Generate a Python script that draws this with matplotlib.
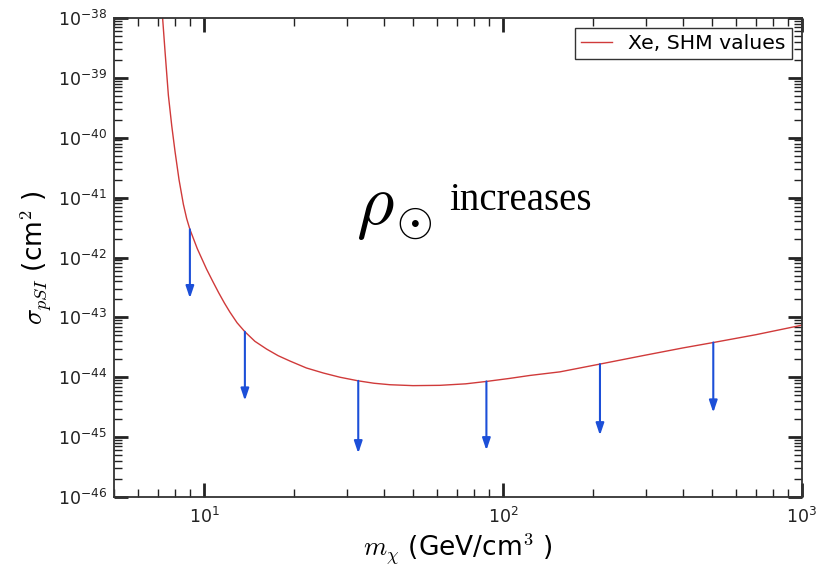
import numpy as np
import matplotlib
matplotlib.use('Agg')
import matplotlib.pyplot as plt
from matplotlib.ticker import LogLocator, NullFormatter

# ---- data ----
xe_mass = [7.27, 7.41, 7.60, 7.8, 8.0, 8.25, 8.53, 8.75, 8.97, 9.5, 10.2, 10.7, 11.2,
           11.7, 12.2, 12.9, 13.7, 14.8, 16.2, 17.7, 19.4, 22.0, 25.1, 28.5, 32.8,
           37.0, 41.9, 50.0, 61.5, 75.0, 88, 105, 123, 155, 211, 300, 400, 505,
           700, 1000]
xe_log_sigma = [-38.0, -38.57, -39.29, -39.8, -40.23, -40.7, -41.11, -41.35, -41.53,
                -41.855, -42.195, -42.40, -42.59, -42.76, -42.91, -43.09, -43.24, -43.40,
                -43.53, -43.64, -43.73, -43.845, -43.93, -44.0, -44.06, -44.10, -44.125,
                -44.14, -44.135, -44.11, -44.07, -44.02, -43.97, -43.91, -43.78, -43.63,
                -43.51, -43.42, -43.29, -43.13]
legend_label = 'Xe, SHM values'

arrow_mass = [8.97, 13.7, 32.8, 88, 211, 505]
arrow_log_top = [-41.53, -43.24, -44.06, -44.07, -43.78, -43.42]
arrow_log_bottom = [-42.68, -44.39, -45.27, -45.22, -44.97, -44.59]

xlim = (5, 1000)
ylim = (1e-46, 1e-38)
xlabel = r'$m_\chi$ (GeV/cm$^3$ )'
ylabel = r'$\sigma_{pSI}$ (cm$^2$ )'

# ---- figure ----
fig = plt.figure(figsize=(8.16, 5.74), dpi=100)
ax = fig.add_axes([114/816, 1-497/574, (802-114)/816, (497-18)/574])
ax.set_xscale('log')
ax.set_yscale('log')

ax.plot(xe_mass, 10**np.array(xe_log_sigma), color='#d03a3a', lw=1.0, label=legend_label)

for m, t, b in zip(arrow_mass, arrow_log_top, arrow_log_bottom):
    ax.annotate('', xy=(m, 10**b), xytext=(m, 10**t),
                arrowprops=dict(arrowstyle='-|>,head_length=0.65,head_width=0.22',
                                color='#1c4fd8', lw=1.5, shrinkA=0, shrinkB=0,
                                mutation_scale=11))

ax.set_xlim(*xlim)
ax.set_ylim(*ylim)

for axis in (ax.xaxis, ax.yaxis):
    axis.set_major_locator(LogLocator(base=10, numticks=30))
    axis.set_minor_locator(LogLocator(base=10, subs=np.arange(2, 10), numticks=200))
    axis.set_minor_formatter(NullFormatter())

ax.tick_params(which='both', direction='in', top=True, right=True, colors='#222222')
ax.tick_params(which='major', length=10, width=2, labelsize=12.5)
ax.tick_params(axis='y', which='major', pad=5)
ax.tick_params(axis='x', which='major', pad=7)
ax.tick_params(which='minor', length=6, width=1)
for s in ax.spines.values():
    s.set_linewidth(1.3)
    s.set_color('#333333')

ax.set_xlabel(xlabel, fontsize=19, math_fontfamily='cm', labelpad=3)
ax.set_ylabel(ylabel, fontsize=19, math_fontfamily='cm', labelpad=3)

ax.text(0.379, 0.570, r'$\rho$', transform=ax.transAxes, fontsize=52,
        math_fontfamily='cm', ha='center', va='baseline')
ax.text(0.436, 0.574, r'$\odot$', transform=ax.transAxes, fontsize=34,
        math_fontfamily='cm', ha='center', va='center')
ax.text(0.487, 0.600, 'increases', transform=ax.transAxes, fontsize=28,
        family='Liberation Serif', ha='left', va='baseline')

leg = ax.legend(loc='upper right', fontsize=14.7, fancybox=False, framealpha=1,
                edgecolor='#333333', handlelength=1.5, borderaxespad=0.5,
                borderpad=0.3)
leg.get_frame().set_linewidth(1.0)

fig.savefig('out.png', dpi=100)
